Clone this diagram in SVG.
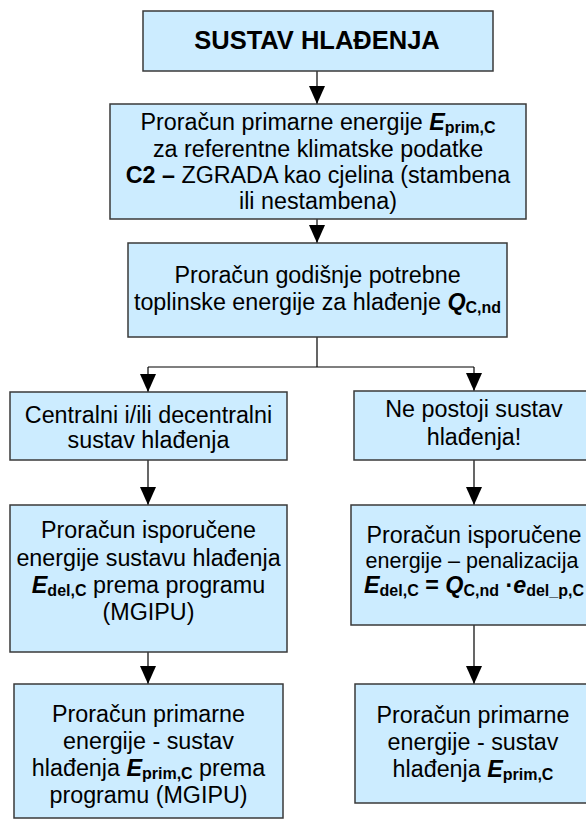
<svg xmlns="http://www.w3.org/2000/svg" width="586" height="819" viewBox="0 0 586 819">
<defs>
<marker id="ah" markerUnits="userSpaceOnUse" markerWidth="18" markerHeight="16" viewBox="0 0 18 16" refX="18" refY="8" orient="auto">
<path d="M0,0 L18,8 L0,16 Z" fill="#000"/>
</marker>
<style>
.box{fill:#CCECFF;stroke:#3a3a3a;stroke-width:1.5}
.t{font-family:"Liberation Sans",Arial,sans-serif;font-size:23.3px;fill:#000;text-anchor:middle}
.title{font-size:25.5px;font-weight:bold}
.b{font-weight:bold}
.bi{font-weight:bold;font-style:italic}
.s{font-weight:bold;font-size:16px}
.c{fill:none;stroke:#000;stroke-width:1.2}
</style>
</defs>
<rect width="586" height="819" fill="#fff"/>
<g id="connectors">
<path class="c" d="M317,71 V104" marker-end="url(#ah)"/>
<path class="c" d="M317,219 V243" marker-end="url(#ah)"/>
<path class="c" d="M317,337 V367 M148,367 H474"/>
<path class="c" d="M148,367 V392" marker-end="url(#ah)"/>
<path class="c" d="M474,367 V391" marker-end="url(#ah)"/>
<path class="c" d="M148,460 V505" marker-end="url(#ah)"/>
<path class="c" d="M148,652 V684" marker-end="url(#ah)"/>
<path class="c" d="M474,460 V505" marker-end="url(#ah)"/>
<path class="c" d="M474,625 V684" marker-end="url(#ah)"/>
</g>
<g id="n1">
<rect class="box" x="143" y="11" width="350" height="60"/>
<text class="t title" x="317" y="49">SUSTAV HLAĐENJA</text>
</g>
<g id="n2">
<rect class="box" x="110" y="104" width="416" height="115"/>
<text class="t" x="318" y="130">Proračun primarne energije <tspan class="bi">E</tspan><tspan class="s" dy="3">prim,C</tspan></text>
<text class="t" x="318" y="156.5">za referentne klimatske podatke</text>
<text class="t" x="318" y="183"><tspan class="b">C2 –</tspan> ZGRADA kao cjelina (stambena</text>
<text class="t" x="318" y="209">ili nestambena)</text>
</g>
<g id="n3">
<rect class="box" x="128" y="243" width="379" height="94"/>
<text class="t" x="317.5" y="283">Proračun godišnje potrebne</text>
<text class="t" x="317.5" y="310">toplinske energije za hlađenje <tspan class="bi">Q</tspan><tspan class="s" dy="3">C,nd</tspan></text>
</g>
<g id="n4">
<rect class="box" x="10" y="392" width="277" height="68"/>
<text class="t" x="148.5" y="423">Centralni i/ili decentralni</text>
<text class="t" x="148.5" y="448">sustav hlađenja</text>
</g>
<g id="n5">
<rect class="box" x="354" y="391" width="240" height="69"/>
<text class="t" x="474" y="417">Ne postoji sustav</text>
<text class="t" x="474" y="445">hlađenja!</text>
</g>
<g id="n6">
<rect class="box" x="10" y="505" width="277" height="147"/>
<text class="t" x="148.5" y="538">Proračun isporučene</text>
<text class="t" x="148.5" y="566">energije sustavu hlađenja</text>
<text class="t" x="148.5" y="593"><tspan class="bi">E</tspan><tspan class="s" dy="3">del,C</tspan><tspan dy="-3"> prema programu</tspan></text>
<text class="t" x="148.5" y="620">(MGIPU)</text>
</g>
<g id="n7">
<rect class="box" x="351" y="505" width="246" height="120"/>
<text class="t" x="474" y="543">Proračun isporučene</text>
<text class="t" x="472" y="568" style="font-size:21.5px">energije – penalizacija</text>
<text class="t" x="474" y="593"><tspan class="bi">E</tspan><tspan class="s" dy="3">del,C</tspan><tspan class="b" dy="-3"> = </tspan><tspan class="bi">Q</tspan><tspan class="s" dy="3">C,nd</tspan><tspan class="b" dy="-3"> ·</tspan><tspan class="bi">e</tspan><tspan class="s" dy="3">del_p,C</tspan></text>
</g>
<g id="n8">
<rect class="box" x="14" y="684" width="269" height="134"/>
<text class="t" x="148.5" y="722">Proračun primarne</text>
<text class="t" x="148.5" y="749">energije - sustav</text>
<text class="t" x="148.5" y="776">hlađenja <tspan class="bi">E</tspan><tspan class="s" dy="3">prim,C</tspan><tspan dy="-3"> prema</tspan></text>
<text class="t" x="148.5" y="803">programu (MGIPU)</text>
</g>
<g id="n9">
<rect class="box" x="355" y="684" width="238" height="119"/>
<text class="t" x="473" y="723">Proračun primarne</text>
<text class="t" x="473" y="750">energije - sustav</text>
<text class="t" x="473" y="777">hlađenja <tspan class="bi">E</tspan><tspan class="s" dy="3">prim,C</tspan></text>
</g>
</svg>
